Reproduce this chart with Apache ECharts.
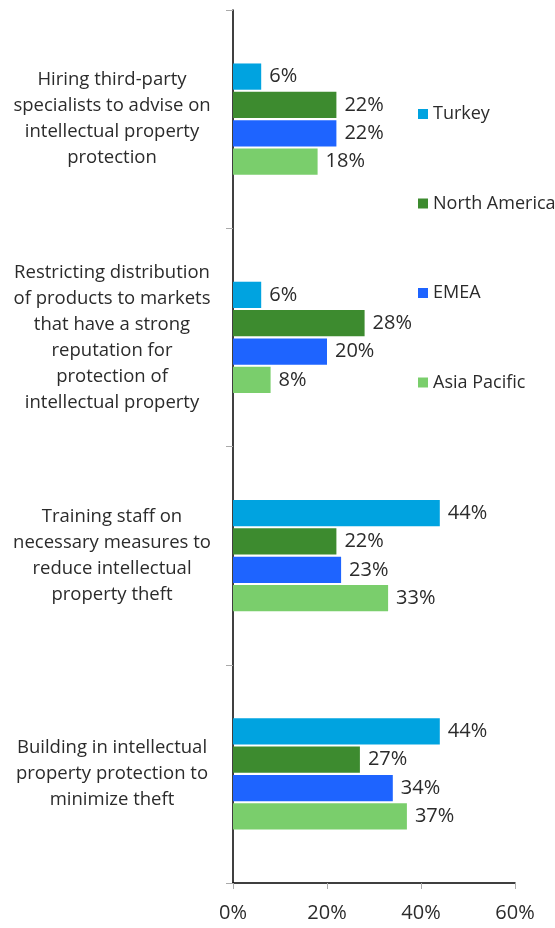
<!DOCTYPE html>
<html>
<head>
<meta charset="utf-8">
<script src="https://cdn.jsdelivr.net/npm/echarts@6/dist/echarts.min.js"></script>
<style>
  html, body { margin: 0; padding: 0; background: #fff; }
  #chart { width: 555px; height: 928px; }
</style>
</head>
<body>
<div id="chart"></div>
<script>
const categories = [
    'Hiring third-party\nspecialists to advise on\nintellectual property\nprotection',
    'Restricting distribution\nof products to markets\nthat have a strong\nreputation for\nprotection of\nintellectual property',
    'Training staff on\nnecessary measures to\nreduce intellectual\nproperty theft',
    'Building in intellectual\nproperty protection to\nminimize theft'
];
const turkey = [6, 6, 44, 44];
const northAmerica = [22, 28, 22, 27];
const emea = [22, 20, 23, 34];
const asiaPacific = [18, 8, 33, 37];
const xTicks = [0, 20, 40, 60];

const textColor = '#2b2b2b';
const fontFamily = '"Open Sans", sans-serif';

function barSeries(name, data, color) {
    return {
        name: name,
        type: 'bar',
        data: data,
        barGap: '8%',
        barCategoryGap: '49%',
        itemStyle: { color: color },
        label: {
            show: true,
            position: 'right',
            distance: 8,
            formatter: '{c}%',
            color: textColor,
            fontSize: 20,
            fontFamily: fontFamily
        }
    };
}

let chartElem = document.getElementById('chart');
let chart = echarts.init(chartElem);
chart.setOption({
    animation: false,
    textStyle: { fontFamily: fontFamily },
    grid: { left: 233, right: 40, top: 10, bottom: 45, containLabel: false },
    legend: {
        orient: 'vertical',
        left: 413,
        top: 100,
        itemWidth: 10,
        itemHeight: 10,
        itemGap: 71.5,
        icon: 'rect',
        textStyle: { color: textColor, fontSize: 18, fontFamily: fontFamily },
        data: ['Turkey', 'North America', 'EMEA', 'Asia Pacific']
    },
    xAxis: {
        type: 'value',
        min: xTicks[0],
        max: xTicks[xTicks.length - 1],
        interval: 20,
        splitLine: { show: false },
        axisLine: { show: true, lineStyle: { color: '#000', width: 1.5 } },
        axisTick: { show: true, length: 6, lineStyle: { color: '#aaa' } },
        axisLabel: {
            margin: 20,
            color: textColor,
            fontSize: 20,
            fontFamily: fontFamily,
            formatter: '{value}%'
        }
    },
    yAxis: {
        type: 'category',
        inverse: true,
        data: categories,
        axisLine: { show: true, lineStyle: { color: '#000', width: 1.5 } },
        axisTick: { show: true, length: 7, lineStyle: { color: '#aaa' } },
        axisLabel: {
            margin: 121,
            align: 'center',
            color: textColor,
            fontSize: 18.5,
            lineHeight: 26,
            fontFamily: fontFamily
        }
    },
    series: [
        barSeries('Turkey', turkey, '#00A3E0'),
        barSeries('North America', northAmerica, '#3D8B2F'),
        barSeries('EMEA', emea, '#1E64FF'),
        barSeries('Asia Pacific', asiaPacific, '#7ACE6C')
    ]
});
window.addEventListener('resize', function () {
    setTimeout(() => {
        chart.resize();
    }, 500);
});
</script>
</body>
</html>
